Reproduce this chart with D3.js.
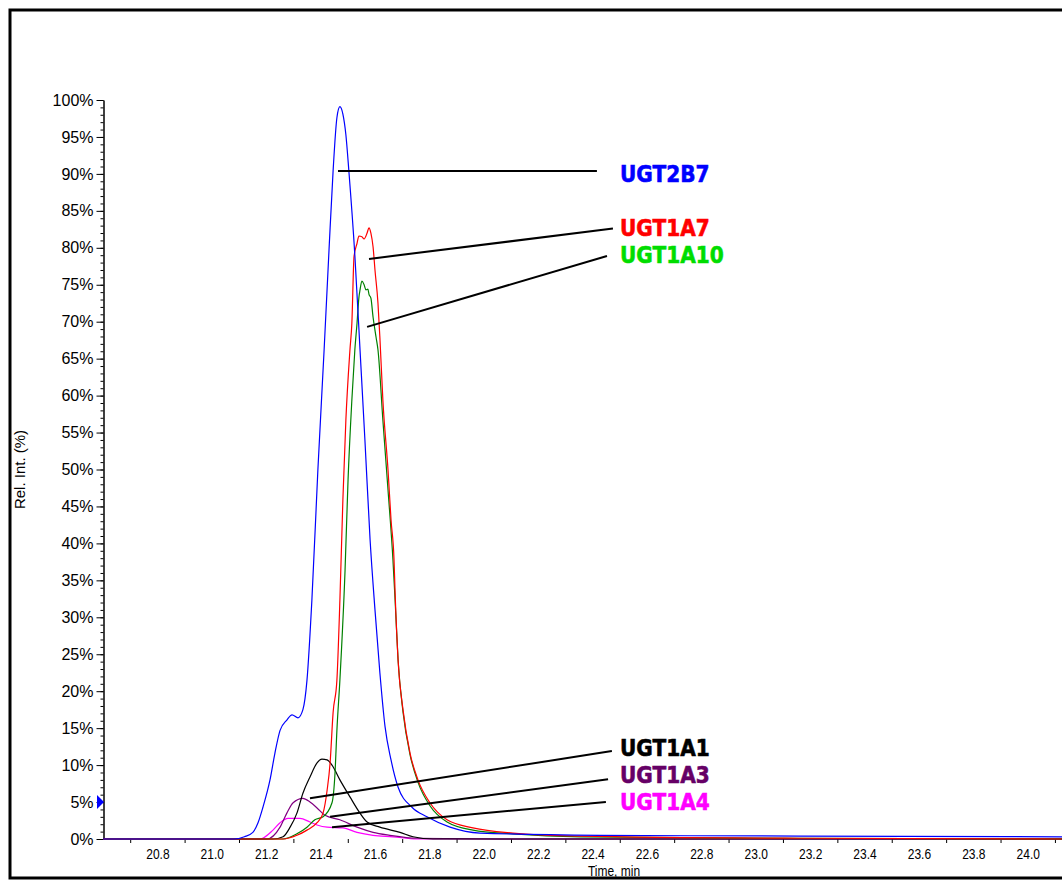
<!DOCTYPE html>
<head>
<meta charset="utf-8">
<script src="https://d3js.org/d3.v7.min.js"></script>
<style>
    body { margin: 0; background: #fff; }
    svg { display: block; }
    .axis text { font-family: "Liberation Sans", Arial, sans-serif; fill: #000; }
    .label { font-family: "DejaVu Sans", Verdana, sans-serif; font-weight: bold; }
</style>
</head>
<body>
<script>
// series, top-to-bottom in the label stack
var names = ["UGT2B7", "UGT1A7", "UGT1A10", "UGT1A1", "UGT1A3", "UGT1A4"];
var lineColors = ["#0000ff", "#ff0000", "#008000", "#000000", "#800080", "#ff00ff"];
var labelColors = ["#0000ff", "#ff0000", "#00dd00", "#000000", "#660066", "#ff00ff"];

// [time (min), relative intensity (%)]
var ugt2b7 = [[20.6, 0], [21.08, 0], [21.12, 0.3], [21.151, 0.9], [21.17, 2.2], [21.188, 4.3], [21.214, 8.0],
    [21.232, 11.6], [21.251, 14.7], [21.276, 16.1], [21.295, 16.8], [21.317, 16.4], [21.335, 17.5], [21.35, 21.5],
    [21.368, 32.3], [21.39, 49.9], [21.413, 66.2], [21.431, 79.7], [21.446, 90.4], [21.46, 97.6], [21.471, 99.1],
    [21.482, 98.1], [21.493, 95.3], [21.504, 90.4], [21.526, 79.0], [21.545, 66.2], [21.563, 54.0], [21.582, 40.5],
    [21.6, 31.0], [21.618, 22.5], [21.637, 15.2], [21.659, 10.7], [21.685, 7.0], [21.736, 4.3], [21.791, 3.0],
    [21.876, 1.6], [21.986, 0.8], [22.427, 0.5], [23.163, 0.4], [24.13, 0.3]];
var ugt1a7 = [[20.6, 0], [21.262, 0], [21.313, 0.5], [21.35, 1.2], [21.387, 2.2], [21.409, 3.5], [21.424, 6.6],
    [21.435, 10.3], [21.446, 17.1], [21.46, 21.5], [21.471, 32.3], [21.482, 45.9], [21.493, 56.7], [21.508, 66.2],
    [21.515, 69.8], [21.523, 78.8], [21.534, 80.6], [21.541, 81.6], [21.552, 81.5], [21.56, 81.2], [21.571, 82.0],
    [21.578, 82.7], [21.585, 82.0], [21.593, 80.1], [21.6, 77.0], [21.611, 72.5], [21.618, 67.9], [21.629, 59.4],
    [21.648, 49.9], [21.659, 43.2], [21.67, 37.8], [21.674, 33.3], [21.685, 24.2], [21.703, 17.5], [21.729, 11.6],
    [21.758, 8.0], [21.802, 4.9], [21.865, 2.6], [21.96, 1.5], [22.107, 0.8], [22.354, 0.4], [23.163, 0.1], [24.13, 0]];
var ugt1a10 = [[20.6, 0], [21.262, 0], [21.313, 0.7], [21.35, 1.6], [21.379, 2.6], [21.409, 3.0], [21.442, 4.9],
    [21.453, 8.9], [21.46, 14.7], [21.471, 21.5], [21.49, 36.4], [21.501, 48.6], [21.515, 59.4], [21.526, 66.2],
    [21.534, 69.8], [21.541, 73.3], [21.545, 74.3], [21.552, 75.5], [21.56, 75.0], [21.567, 74.3], [21.574, 74.4],
    [21.578, 73.7], [21.585, 73.2], [21.593, 70.6], [21.604, 67.9], [21.611, 66.2], [21.629, 56.7], [21.648, 47.2],
    [21.666, 37.8], [21.674, 32.3], [21.685, 24.2], [21.703, 17.2], [21.729, 11.4], [21.758, 7.7], [21.802, 4.5],
    [21.865, 2.3], [21.96, 1.2], [22.107, 0.7], [22.354, 0.3], [23.163, 0.1], [24.13, 0]];
var ugt1a1 = [[20.6, 0], [21.225, 0], [21.262, 0.3], [21.288, 1.6], [21.313, 3.5], [21.335, 6.2], [21.361, 8.4],
    [21.387, 10.3], [21.405, 10.8], [21.424, 10.7], [21.442, 10.0], [21.471, 8.0], [21.508, 5.7], [21.545, 3.5],
    [21.571, 2.3], [21.618, 1.6], [21.692, 0.9], [21.74, 0.3], [21.813, 0], [24.13, 0]];
var ugt1a3 = [[20.6, 0], [21.203, 0], [21.251, 1.6], [21.276, 3.5], [21.299, 4.9], [21.335, 5.5], [21.361, 5.0],
    [21.387, 4.2], [21.416, 3.2], [21.471, 2.6], [21.534, 1.6], [21.593, 0.9], [21.655, 0.5], [21.754, 0.1],
    [22.06, 0], [24.13, 0]];
var ugt1a4 = [[20.6, 0], [21.177, 0], [21.225, 1.2], [21.251, 2.2], [21.28, 2.8], [21.324, 2.8], [21.361, 2.3],
    [21.387, 1.9], [21.424, 1.6], [21.482, 1.5], [21.534, 0.9], [21.593, 0.5], [21.666, 0.3], [21.754, 0], [24.13, 0]];
var series = [ugt2b7, ugt1a7, ugt1a10, ugt1a1, ugt1a3, ugt1a4];

// label annotations (data units)
var labelTime = 22.501;
var labelLevels = [89.97, 82.75, 79.03, 12.38, 8.66, 5.07];
var leaderFrom = [[21.464, 90.4], [21.578, 78.5], [21.571, 69.3], [21.361, 5.5], [21.435, 3.0], [21.442, 1.6]];
var leaderTo = [[22.416, 90.4], [22.475, 82.6], [22.453, 78.9], [22.471, 11.9], [22.457, 8.1], [22.449, 5.0]];

var yMajor = [0, 5, 10, 15, 20, 25, 30, 35, 40, 45, 50, 55, 60, 65, 70, 75, 80, 85, 90, 95, 100];
var xLabels = [20.8, 21.0, 21.2, 21.4, 21.6, 21.8, 22.0, 22.2, 22.4, 22.6, 22.8, 23.0, 23.2, 23.4, 23.6, 23.8, 24.0];
var xTicks = [20.7, 20.9, 21.1, 21.3, 21.5, 21.7, 21.9, 22.1, 22.3, 22.5, 22.7, 22.9, 23.1, 23.3, 23.5, 23.7, 23.9, 24.1];

var width = 1062, height = 880;

var x = d3.scaleLinear().domain([20.6, 24.126]).range([103, 1062]);
var y = d3.scaleLinear().domain([0, 100]).range([839, 100]);

var svg = d3.select("body").append("svg")
    .attr("width", width)
    .attr("height", height);

svg.append("rect")
    .attr("width", width).attr("height", height)
    .attr("fill", "#fff");

// frame
svg.append("rect")
    .attr("x", 10).attr("y", 10)
    .attr("width", 1100).attr("height", 868)
    .attr("fill", "none")
    .attr("stroke", "#000")
    .attr("stroke-width", 3);

// y axis: minor then major
svg.append("g")
    .attr("class", "axis")
    .attr("transform", "translate(103.5,0)")
    .call(d3.axisLeft(y).tickValues(d3.range(0, 101, 1)).tickSize(3).tickSizeOuter(0).tickFormat(""))
    .call(function(g) { g.select(".domain").remove(); });

var yAxis = svg.append("g")
    .attr("class", "axis")
    .attr("transform", "translate(103.5,0)")
    .call(d3.axisLeft(y).tickValues(yMajor).tickSize(7).tickSizeOuter(0).tickPadding(3)
        .tickFormat(function(d) { return d + "%"; }));
yAxis.selectAll("text").attr("font-size", 16);
yAxis.select(".domain").attr("stroke-width", 1.5);

// x axis: ticks at odd tenths, labels at even tenths
svg.append("g")
    .attr("class", "axis")
    .attr("transform", "translate(0,839)")
    .call(d3.axisBottom(x).tickValues(xTicks).tickSize(4).tickFormat(""))
    .call(function(g) { g.select(".domain").remove(); });

var xAxis = svg.append("g")
    .attr("class", "axis")
    .attr("transform", "translate(0,839)")
    .call(d3.axisBottom(x).tickValues(xLabels).tickSize(0).tickPadding(9).tickFormat(d3.format(".1f")));
xAxis.select(".domain").remove();
xAxis.selectAll("text")
    .attr("font-size", 15)
    .attr("transform", "scale(0.8,1)");

// axis titles
svg.append("text")
    .attr("class", "axis")
    .attr("transform", "translate(614,876) scale(0.8,1)")
    .attr("text-anchor", "middle")
    .style("font-family", "'Liberation Sans', Arial, sans-serif")
    .style("font-size", "15px")
    .text("Time, min");

svg.append("text")
    .attr("transform", "translate(25," + y(50) + ") rotate(-90)")
    .attr("text-anchor", "middle")
    .style("font-family", "'Liberation Sans', Arial, sans-serif")
    .style("font-size", "15px")
    .text("Rel. Int. (%)");

// 5% marker on the y axis
svg.append("path")
    .attr("d", "M" + (x.range()[0] - 6) + "," + (y(5) - 7) + "L" + (x.range()[0] + 1) + "," + y(5) +
        "L" + (x.range()[0] - 6) + "," + (y(5) + 7) + "Z")
    .attr("fill", "#0000ff");

// traces
var line = d3.line()
    .x(function(d) { return x(d[0]); })
    .y(function(d) { return y(d[1]); })
    .curve(d3.curveMonotoneX);

var order = d3.range(series.length).reverse();
svg.append("g").selectAll("path")
    .data(order)
    .enter().append("path")
    .attr("d", function(i) { return line(series[i]); })
    .attr("fill", "none")
    .attr("stroke", function(i) { return lineColors[i]; })
    .attr("stroke-width", 1.2);

// leader lines and labels
svg.append("g").selectAll("line")
    .data(names)
    .enter().append("line")
    .attr("x1", function(d, i) { return x(leaderFrom[i][0]); })
    .attr("y1", function(d, i) { return y(leaderFrom[i][1]); })
    .attr("x2", function(d, i) { return x(leaderTo[i][0]); })
    .attr("y2", function(d, i) { return y(leaderTo[i][1]); })
    .attr("stroke", "#000")
    .attr("stroke-width", 2);

svg.append("g").selectAll("text")
    .data(names)
    .enter().append("text")
    .attr("class", "label")
    .attr("transform", function(d, i) {
        return "translate(" + x(labelTime) + "," + y(labelLevels[i]) + ") scale(0.875,1)";
    })
    .attr("dy", "0.36em")
    .attr("font-size", 23)
    .attr("fill", function(d, i) { return labelColors[i]; })
    .attr("stroke", function(d, i) { return labelColors[i]; })
    .attr("stroke-width", 0.6)
    .text(function(d) { return d; });
</script>
</body>
